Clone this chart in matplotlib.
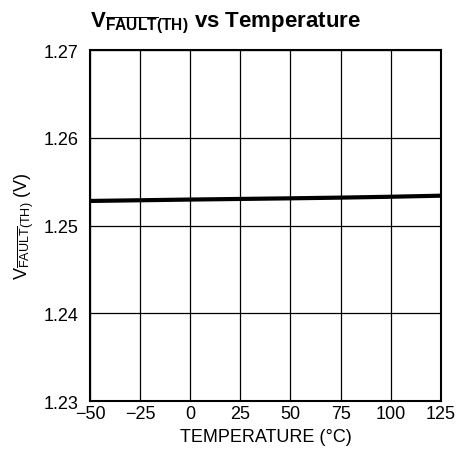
import matplotlib
matplotlib.use("Agg")
import matplotlib.pyplot as plt

# data
temps = [-50, -25, 0, 25, 50, 75, 100, 125]
vfault = [1.2528, 1.25288, 1.25296, 1.25303, 1.25310, 1.25318, 1.25328, 1.2534]

x_ticks = [-50, -25, 0, 25, 50, 75, 100, 125]
x_labels = ["\u221250", "\u221225", "0", "25", "50", "75", "100", "125"]
y_ticks = [1.23, 1.24, 1.25, 1.26, 1.27]
y_labels = ["1.23", "1.24", "1.25", "1.26", "1.27"]

FONT = "Liberation Sans"
plt.rcParams["font.family"] = [FONT, "DejaVu Sans"]
plt.rcParams["mathtext.fontset"] = "custom"
plt.rcParams["mathtext.rm"] = FONT
plt.rcParams["mathtext.it"] = FONT
plt.rcParams["mathtext.bf"] = FONT + ":bold"

fig = plt.figure(figsize=(4.71, 4.64), dpi=100)
ax = fig.add_axes([0.191, 0.1336, 0.745, 0.7564])

ax.plot(temps, vfault, color="black", linewidth=3, solid_capstyle="butt")

ax.set_xlim(-50, 125)
ax.set_ylim(1.23, 1.27)
ax.set_xticks(x_ticks)
ax.set_xticklabels(x_labels)
ax.set_yticks(y_ticks)
ax.set_yticklabels(y_labels)
ax.tick_params(length=0, labelsize=13)
ax.tick_params(axis="x", pad=3)
ax.tick_params(axis="y", pad=8)
ax.grid(True, color="black", linewidth=0.9)
ax.set_axisbelow(True)
for s in ax.spines.values():
    s.set_linewidth(1.5)

ax.set_xlabel("TEMPERATURE (\u00b0C)", fontsize=13, labelpad=4)
ax.set_ylabel(r"V$_{\overline{\mathrm{FAULT}}\mathrm{(TH)}}$ (V)", fontsize=13, labelpad=6)

fig.text(0.191, 0.942,
         r"$\mathbf{V}_{\overline{\mathbf{FAULT}}\mathbf{(TH)}}$ vs Temperature",
         ha="left", va="baseline", fontsize=16, fontweight="bold")

fig.savefig("out.png", dpi=100)
